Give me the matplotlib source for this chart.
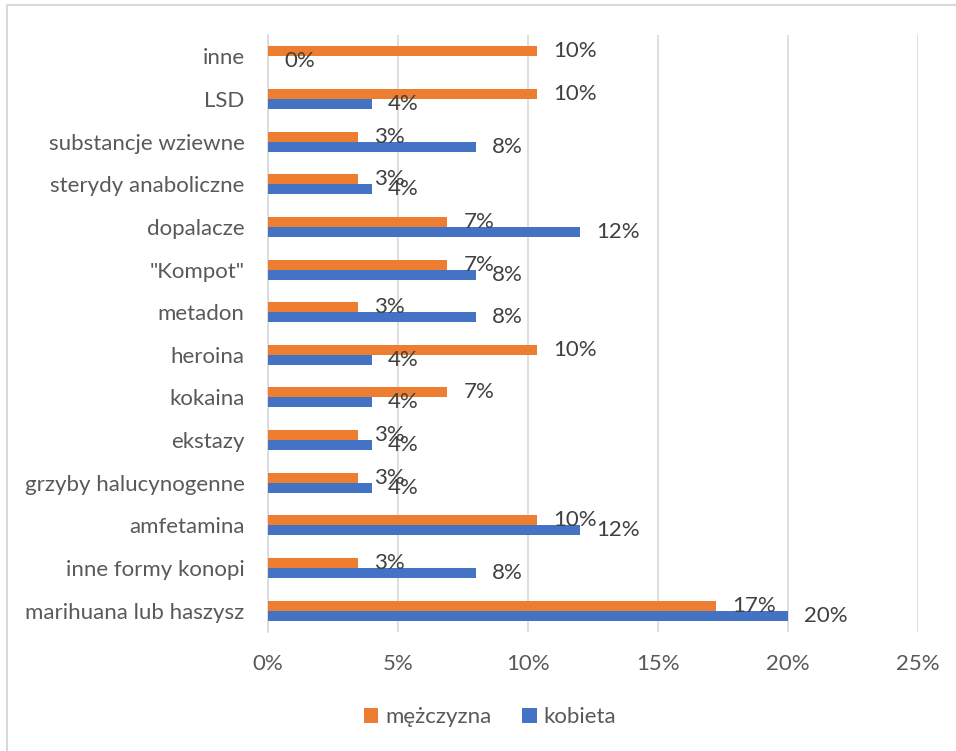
import matplotlib
matplotlib.use("Agg")
import matplotlib.pyplot as plt
from matplotlib.patches import Rectangle
from matplotlib.ticker import FuncFormatter
from matplotlib.transforms import offset_copy
import numpy as np

categories = ["inne", "LSD", "substancje wziewne", "sterydy anaboliczne", "dopalacze",
              "\"Kompot\"", "metadon", "heroina", "kokaina", "ekstazy",
              "grzyby halucynogenne", "amfetamina", "inne formy konopi",
              "marihuana lub haszysz"]
men = [0.1034, 0.1034, 0.0345, 0.0345, 0.069, 0.069, 0.0345, 0.1034, 0.069, 0.0345,
       0.0345, 0.1034, 0.0345, 0.1724]
women = [0.0, 0.04, 0.08, 0.04, 0.12, 0.08, 0.08, 0.04, 0.04, 0.04, 0.04, 0.12, 0.08, 0.20]
series_names = ["mężczyzna", "kobieta"]
xticks = [0, 0.05, 0.10, 0.15, 0.20, 0.25]

ORANGE = "#ED7D31"
BLUE = "#4472C4"
TEXT = "#595959"
FONT = ["Lato", "DejaVu Sans"]
plt.rcParams["font.family"] = FONT
FS = 16

fig = plt.figure(figsize=(9.56, 7.51), dpi=100)
ax = fig.add_axes([268/956, 1-632/751, 650/956, 597/751])

y = np.arange(len(categories))
h = 0.235
b1 = ax.barh(y - h/2, men, height=h, color=ORANGE, label=series_names[0], zorder=3)
b2 = ax.barh(y + h/2, women, height=h, color=BLUE, label=series_names[1], zorder=3)

for bars, vals in ((b1, men), (b2, women)):
    for yy, v in zip(bars, vals):
        cy = yy.get_y() + yy.get_height()/2
        tr = offset_copy(ax.transData, fig=fig, x=16, y=0, units="dots")
        ax.text(v, cy, f"{v:.0%}", transform=tr, ha="left", va="center",
                fontsize=FS, color="#404040", zorder=4)

ax.set_xlim(0, 0.25)
ax.set_ylim(len(categories) - 0.5, -0.5)
ax.set_xticks(xticks)
ax.xaxis.set_major_formatter(FuncFormatter(lambda v, p: f"{v:.0%}"))
ax.set_yticks(y)
ax.set_yticklabels(categories)
ax.tick_params(axis="both", length=0, labelsize=FS, colors=TEXT)
ax.tick_params(axis="y", pad=17)
ax.tick_params(axis="x", pad=16)
ax.grid(axis="x", color="#D9D9D9", linewidth=1.2, zorder=0)
for s in ("top", "right", "bottom"):
    ax.spines[s].set_visible(False)
ax.spines["left"].set_color("#D9D9D9")
ax.spines["left"].set_linewidth(1.2)

leg = fig.legend(handles=[b1, b2], labels=series_names, loc="center",
                 bbox_to_anchor=(490/956, 1-717/751), ncol=2, frameon=False,
                 fontsize=FS, handlelength=0.65, handleheight=0.65,
                 handletextpad=0.3, columnspacing=1.4)
for t in leg.get_texts():
    t.set_color(TEXT)

fig.patches.append(Rectangle((7/956, -0.05), 1.1, 1.05 - 5/751, transform=fig.transFigure,
                             fill=False, edgecolor="#D9D9D9", linewidth=1.5))

fig.savefig("out.png", dpi=100)
